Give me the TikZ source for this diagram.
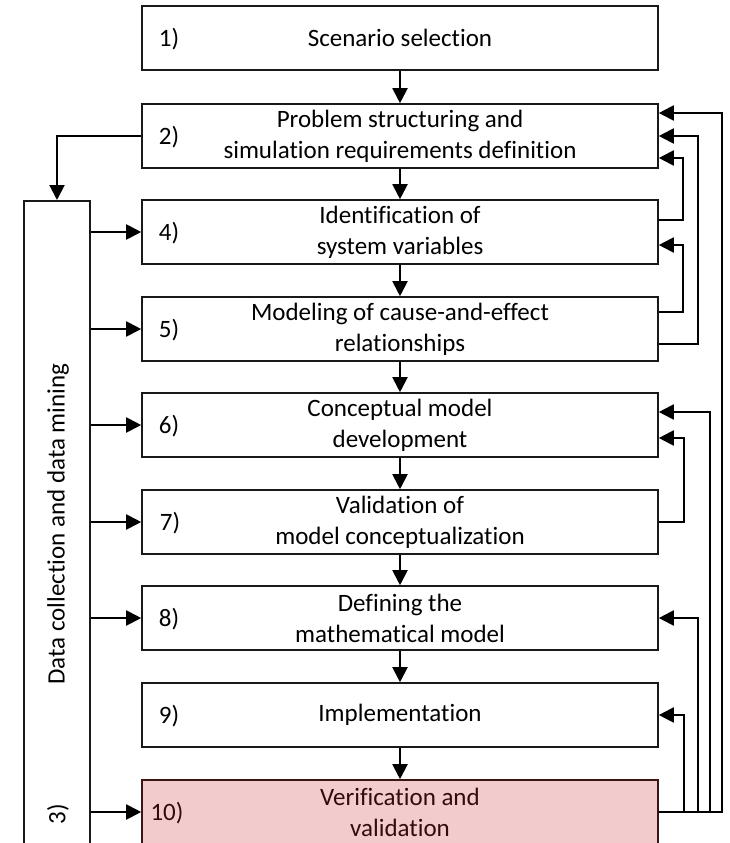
\documentclass[tikz,border=0pt]{standalone}
\usepackage{fontspec}
\setmainfont[Ligatures=CommonOff]{Carlito}
\usetikzlibrary{arrows.meta,calc}
\definecolor{pinkfill}{RGB}{242,204,204}
\definecolor{pinkdraw}{RGB}{60,20,20}
\definecolor{pinktext}{RGB}{50,12,12}
\begin{document}
\begin{tikzpicture}[x=1pt,y=-1pt,
  txt/.style={font=\fontsize{25}{31}\selectfont},
  stepbox/.style={draw=black!90, line width=1.6pt, minimum width=516pt, minimum height=64pt,
    inner sep=0pt, align=center, txt},
  hlbox/.style={stepbox, fill=pinkfill, draw=pinkdraw, text=pinktext},
  num/.style={txt, inner sep=0pt},
  colbox/.style={draw=black!90, line width=1.6pt, minimum width=66pt, minimum height=700pt, inner sep=0pt},
  arr/.style={line width=2pt, -{Triangle[length=15pt,width=15pt]}}]
\useasboundingbox (0,0) rectangle (729,843);
\clip (0,0) rectangle (729,843);
\fill[white] (0,0) rectangle (729,843);

% main boxes
\node[stepbox] (b1) at (400,38) {Scenario selection};
\node[stepbox] (b2) at (400,136) {Problem structuring and\\simulation requirements definition};
\node[stepbox] (b4) at (400,232) {Identification of\\system variables};
\node[stepbox] (b5) at (400,329) {Modeling of cause-and-effect\\relationships};
\node[stepbox] (b6) at (400,425) {Conceptual model\\development};
\node[stepbox] (b7) at (400,522) {Validation of\\model conceptualization};
\node[stepbox] (b8) at (400,618) {Defining the\\mathematical model};
\node[stepbox] (b9) at (400,715) {Implementation};
\node[hlbox] (b10) at (400,812) {Verification and\\validation};

% numbers
\node[num] (n1) at (169,39) {1)};
\node[num] (n2) at (169,137) {2)};
\node[num] (n4) at (169,233) {4)};
\node[num] (n5) at (169,330) {5)};
\node[num] (n6) at (169,426) {6)};
\node[num] (n7) at (170,523) {7)};
\node[num] (n8) at (169,619) {8)};
\node[num] (n9) at (169,716) {9)};
\node[num, text=pinktext] (n10) at (167,813) {10)};

% data column
\node[colbox, anchor=north] (col) at (57,200) {};
\node[txt, rotate=90, inner sep=0pt] (coltxt) at (58,524) {Data collection and data mining};
\node[txt, rotate=90, inner sep=0pt] (n3) at (58,814) {3)};

% main flow
\draw[arr] (b1.south) -- (b2.north);
\draw[arr] (b2.south) -- (b4.north);
\draw[arr] (b4.south) -- (b5.north);
\draw[arr] (b5.south) -- (b6.north);
\draw[arr] (b6.south) -- (b7.north);
\draw[arr] (b7.south) -- (b8.north);
\draw[arr] (b8.south) -- (b9.north);
\draw[arr] (b9.south) -- (b10.north);

% to data column
\draw[arr] (b2.west) -| (col.north);
\foreach \b in {b4,b5,b6,b7,b8,b10}
  \draw[arr] (col.east |- \b.west) -- (\b.west);

% feedback loops
\draw[arr] ([yshift=12pt]b4.east) -- ++(24,0) |- ([yshift=-22pt]b2.east);
\draw[arr] ([yshift=17pt]b5.east) -- ++(24,0) |- ([yshift=-13pt]b4.east);
\draw[arr] ([yshift=-15pt]b5.east) -- ++(39,0) |- (b2.east);
\draw[arr] (b7.east) -- ++(25,0) |- ([yshift=-13pt]b6.east);
\draw[arr] (b10.east) -- ++(63,0) |- ([yshift=23pt]b2.east);
\draw[arr] (b10.east) -- ++(51,0) |- ([yshift=13pt]b6.east);
\draw[arr] (b10.east) -- ++(39,0) |- (b8.east);
\draw[arr] (b10.east) -- ++(25,0) |- (b9.east);
\end{tikzpicture}
\end{document}
